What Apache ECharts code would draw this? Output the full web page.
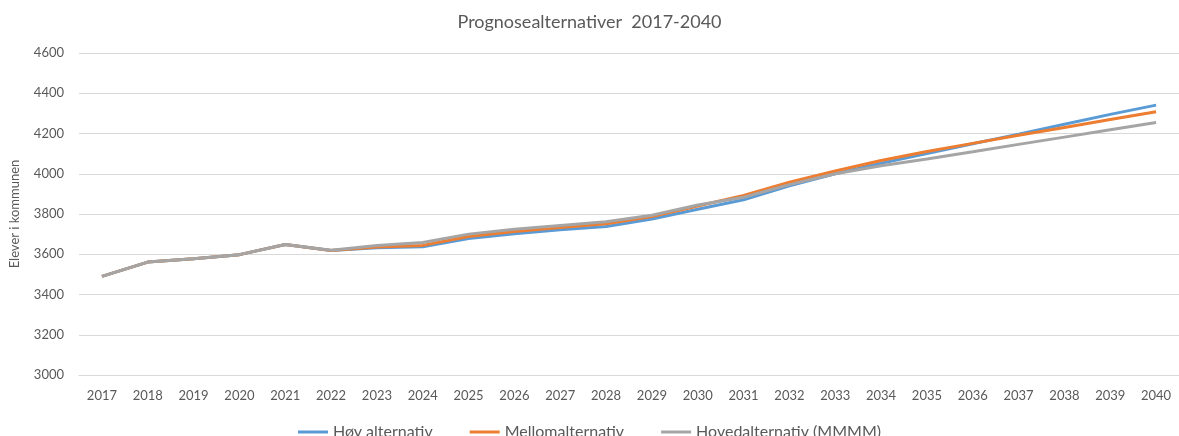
<!DOCTYPE html>
<html>
<head>
<meta charset="utf-8">
<script src="https://cdn.jsdelivr.net/npm/echarts@6/dist/echarts.min.js"></script>
<style>
  html, body { margin: 0; padding: 0; background: #fff; }
  #chart { width: 1179px; height: 436px; }
</style>
</head>
<body>
<div id="chart"></div>
<script>
var years = ['2017','2018','2019','2020','2021','2022','2023','2024','2025','2026','2027','2028',
             '2029','2030','2031','2032','2033','2034','2035','2036','2037','2038','2039','2040'];
var hoy = [3490, 3561, 3578, 3598, 3648, 3619, 3632, 3637, 3678, 3702, 3722, 3738,
           3775, 3824, 3871, 3940, 4000, 4052, 4100, 4149, 4197, 4246, 4295, 4341];
var mello = [3490, 3561, 3578, 3598, 3648, 3619, 3636, 3644, 3688, 3713, 3733, 3752,
             3787, 3840, 3892, 3958, 4014, 4066, 4111, 4151, 4191, 4230, 4270, 4308];
var hoved = [3490, 3561, 3578, 3598, 3648, 3620, 3643, 3658, 3700, 3724, 3743, 3762,
             3794, 3845, 3883, 3946, 4000, 4040, 4073, 4109, 4146, 4182, 4219, 4255];

var font = 'Lato, "Open Sans", sans-serif';
var txt = '#595959';

var chart = echarts.init(document.getElementById('chart'));
chart.setOption({
  animation: false,
  color: ['#5B9BD5', '#ED7D31', '#A5A5A5'],
  title: {
    text: 'Prognosealternativer  2017-2040',
    left: 'center',
    top: 8,
    textStyle: { fontFamily: font, fontSize: 18, fontWeight: 'normal', color: txt }
  },
  legend: {
    bottom: -9,
    left: 'center',
    itemWidth: 30,
    itemHeight: 3,
    itemGap: 37,
    icon: 'rect',
    textStyle: { fontFamily: font, fontSize: 16, color: txt },
    data: ['Høy alternativ', 'Mellomalternativ', 'Hovedalternativ (MMMM)']
  },
  grid: { left: 79, right: 0, top: 53, bottom: 61 },
  xAxis: {
    type: 'category',
    data: years,
    boundaryGap: true,
    axisLine: { lineStyle: { color: '#d9d9d9', width: 1 } },
    axisTick: { show: false },
    axisLabel: { fontFamily: font, fontSize: 13, color: txt, margin: 14 }
  },
  yAxis: {
    type: 'value',
    min: 3000,
    max: 4600,
    interval: 200,
    name: 'Elever i kommunen',
    nameLocation: 'middle',
    nameGap: 58,
    nameTextStyle: { fontFamily: font, fontSize: 13, color: txt },
    axisLine: { show: false },
    axisTick: { show: false },
    axisLabel: { fontFamily: font, fontSize: 13, color: txt, margin: 15,
                 formatter: function (v) { return String(v); } },
    splitLine: { lineStyle: { color: '#d9d9d9', width: 1 } }
  },
  series: [
    { name: 'Høy alternativ', type: 'line', data: hoy, symbol: 'none',
      lineStyle: { width: 3 } },
    { name: 'Mellomalternativ', type: 'line', data: mello, symbol: 'none',
      lineStyle: { width: 3 } },
    { name: 'Hovedalternativ (MMMM)', type: 'line', data: hoved, symbol: 'none',
      lineStyle: { width: 3 } }
  ]
});
</script>
</body>
</html>
